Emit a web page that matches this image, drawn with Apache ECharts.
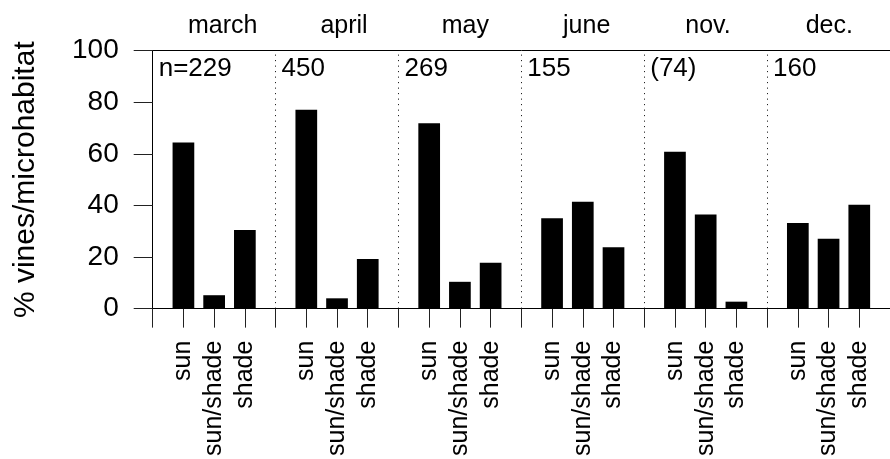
<!DOCTYPE html>
<html>
<head>
<meta charset="utf-8">
<script src="https://cdn.jsdelivr.net/npm/echarts@6/dist/echarts.min.js"></script>
<style>
  html, body { margin: 0; padding: 0; background: #fff; }
  #chart { width: 890px; height: 459px; }
</style>
</head>
<body>
<div id="chart"></div>
<script>
// Share of climbing vines found in each microhabitat, by sampling month
const months = ['march', 'april', 'may', 'june', 'nov.', 'dec.'];
const habitats = ['sun', 'sun/shade', 'shade'];
const sampleSizes = ['n=229', '450', '269', '155', '(74)', '160'];
const sunPct = [64.4, 77.1, 71.9, 35.0, 60.8, 33.2];
const sunShadePct = [5.2, 4.0, 10.4, 41.4, 36.5, 27.1];
const shadePct = [30.5, 19.2, 17.8, 23.8, 2.7, 40.3];
const yTicks = [0, 20, 40, 60, 80, 100];

// Each month occupies four slots on the x scale: a separator followed by three bars
const SLOTS = 4;
const habitatSeries = [sunPct, sunShadePct, shadePct];
const barData = [];
months.forEach((m, i) => {
  habitatSeries.forEach((arr, k) => {
    barData.push([i * SLOTS + k + 1, arr[i]]);
  });
});
const separators = months.map((m, i) => i * SLOTS).filter(v => v > 0);
const sizeLabels = sampleSizes.map((s, i) => ({ value: [i * SLOTS, 92.8], name: s }));

const FONT = "'Liberation Sans', Arial, Helvetica, sans-serif";
const INK = '#000';

const chart = echarts.init(document.getElementById('chart'), null, { renderer: 'canvas' });
chart.setOption({
  animation: false,
  backgroundColor: '#fff',
  textStyle: { fontFamily: FONT, color: INK },
  grid: [
    { left: 152.7, right: -9.6, top: 50.7, bottom: 148.3 },
    { left: 162, right: -1, top: 50.7, bottom: 148.3 }
  ],
  xAxis: [
    {
      gridIndex: 0, type: 'value', position: 'bottom',
      min: 0, max: months.length * SLOTS, interval: 1,
      splitLine: { show: false },
      axisLine: { show: true, lineStyle: { color: INK, width: 1 } },
      axisTick: { show: true, length: 19, inside: false, lineStyle: { color: '#222', width: 1 } },
      axisLabel: {
        show: true, rotate: 90, margin: 32,
        fontSize: 25, fontFamily: FONT, color: INK,
        showMinLabel: true, showMaxLabel: false,
        formatter: v => {
          const r = Math.round(v) % SLOTS;
          return r === 0 ? '' : habitats[r - 1];
        }
      }
    },
    {
      gridIndex: 0, type: 'value', position: 'top',
      min: 0, max: months.length * SLOTS,
      splitLine: { show: false },
      axisLine: { show: true, lineStyle: { color: INK, width: 1 } },
      axisTick: { show: false },
      axisLabel: { show: false }
    },
    {
      gridIndex: 1, type: 'category', position: 'top',
      data: months,
      axisLine: { show: false },
      axisTick: { show: false },
      axisLabel: { show: true, fontSize: 25, fontFamily: FONT, color: INK, margin: 12 }
    }
  ],
  yAxis: [
    {
      gridIndex: 0, type: 'value', min: yTicks[0], max: yTicks[yTicks.length - 1],
      interval: yTicks[1] - yTicks[0],
      splitLine: { show: false },
      axisLine: { show: true, lineStyle: { color: INK, width: 1 } },
      axisTick: { show: true, length: 19, inside: false, lineStyle: { color: '#222', width: 1 } },
      axisLabel: { fontSize: 28, fontFamily: FONT, color: INK, margin: 34 },
      name: '% vines/microhabitat',
      nameLocation: 'middle',
      nameGap: 112,
      nameTextStyle: { fontSize: 30, fontFamily: FONT, color: INK }
    },
    {
      gridIndex: 1, type: 'value', min: 0, max: 100, show: false
    }
  ],
  series: [
    {
      type: 'bar',
      xAxisIndex: 0, yAxisIndex: 0,
      data: barData,
      barWidth: 21.7,
      itemStyle: { color: '#000', borderColor: '#000', borderWidth: 0 },
      markLine: {
        silent: true,
        symbol: 'none',
        label: { show: false },
        lineStyle: { color: '#000', width: 1, type: [1, 4.5] },
        data: separators.map(x => ({ xAxis: x }))
      }
    },
    {
      type: 'scatter',
      xAxisIndex: 0, yAxisIndex: 0,
      data: sizeLabels,
      symbolSize: 0,
      silent: true,
      itemStyle: { opacity: 1, color: INK },
      label: {
        show: true, position: 'right', distance: 6,
        formatter: p => p.name,
        fontSize: 26, fontFamily: FONT, color: INK, opacity: 1
      }
    }
  ]
});
</script>
</body>
</html>
